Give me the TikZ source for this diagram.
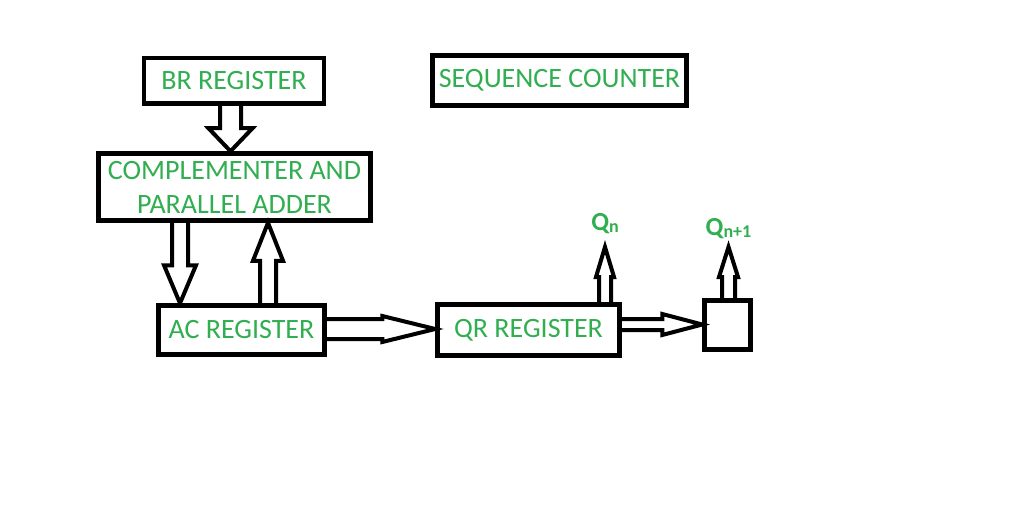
\documentclass[tikz,border=0pt]{standalone}
\usepackage{fontspec}
\setmainfont{Carlito}
\usepackage{tikz}
\usetikzlibrary{calc,positioning}
\definecolor{regreen}{RGB}{48,174,80}
\tikzset{
  reg/.style={draw=black,line width=4.5pt,inner sep=0pt,align=center,text=regreen,
    font=\fontsize{28}{34}\selectfont},
  barrow/.style={draw=black,line width=4pt,line join=miter},
  qlabel/.style={text=regreen,inner sep=0pt,font=\fontsize{26}{26}\selectfont\bfseries}
}
% hollow block arrow: from, to, half shaft, half head, head length
\newcommand{\blockarrow}[5]{%
  \path (#1) coordinate (ba-s) (#2) coordinate (ba-t);
  \path ($(ba-t)!#5!(ba-s)$) coordinate (ba-h);
  \draw[barrow] ($(ba-s)!#3!90:(ba-t)$) -- ($(ba-h)!#3!90:(ba-t)$) -- ($(ba-h)!#4!90:(ba-t)$)
    -- (ba-t) -- ($(ba-h)!#4!-90:(ba-t)$) -- ($(ba-h)!#3!-90:(ba-t)$) -- ($(ba-s)!#3!-90:(ba-t)$);
}
\newcommand{\qsub}[2]{#1{\fontsize{18}{18}\selectfont\raisebox{-2pt}{#2}}}

\begin{document}
\begin{tikzpicture}[x=1pt,y=-1pt]
  \useasboundingbox (0,0) rectangle (1024,505);
  \node[reg,minimum width=180pt,minimum height=45.5pt] (br) at (234,81) {BR REGISTER};
  \node[reg,minimum width=254pt,minimum height=50pt] (seq) at (559.5,80.5) {SEQUENCE COUNTER};
  \node[reg,minimum width=272pt,minimum height=67pt] (comp) at (234.5,187) {COMPLEMENTER AND\\PARALLEL ADDER};
  \node[reg,minimum width=166pt,minimum height=49pt] (ac) at (241.5,330) {AC REGISTER};
  \node[reg,minimum width=182pt,minimum height=51pt] (qr) at (528.5,330) {QR REGISTER};
  \node[reg,minimum width=46pt,minimum height=49pt] (qbit) at (727.5,325) {};
  \coordinate (qntip) at (605,247);
  \coordinate (qnntip) at (728.5,247);
  \node[qlabel,above=13pt of qntip] (qn) {\qsub{Q}{n}};
  \node[qlabel,above=8pt of qnntip] (qnn) {\qsub{Q}{n+1}};

  \blockarrow{br.south -| 230.5,0}{comp.north -| 230.5,0}{10.5pt}{22pt}{23pt}
  \blockarrow{comp.south -| 180,0}{ac.north -| 180,0}{8pt}{16pt}{38pt}
  \blockarrow{ac.north -| 268,0}{comp.south -| 268,0}{8pt}{15pt}{38pt}
  \blockarrow{ac.east |- 0,329}{qr.west |- 0,329}{10pt}{13pt}{53pt}
  \blockarrow{qr.east |- 0,324.5}{qbit.west |- 0,324.5}{5.5pt}{10.5pt}{40pt}
  \blockarrow{qr.north -| qntip}{qntip}{6pt}{9pt}{30pt}
  \blockarrow{qbit.north -| qnntip}{qnntip}{6.5pt}{9.5pt}{30pt}
\end{tikzpicture}
\end{document}
